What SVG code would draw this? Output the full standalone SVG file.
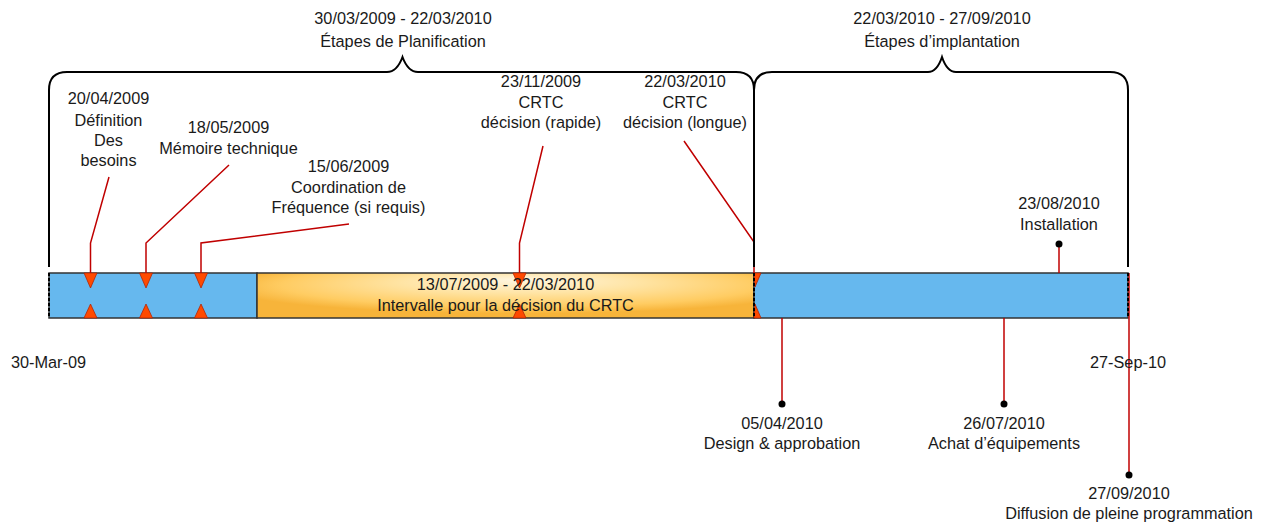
<svg xmlns="http://www.w3.org/2000/svg" width="1265" height="525" viewBox="0 0 1265 525">
<defs>
<radialGradient id="og" cx="0.53" cy="0.3" r="0.6" fx="0.53" fy="0.15">
<stop offset="0" stop-color="#FFF6E0"/>
<stop offset="0.4" stop-color="#FFE4A4"/>
<stop offset="0.8" stop-color="#FFCC62"/>
<stop offset="1" stop-color="#F7B43A"/>
</radialGradient>
</defs>
<style>
text{font-family:"Liberation Sans",Arial,sans-serif;font-size:16.3px;fill:#1a1a1a;text-anchor:middle}
.blue{fill:#66B8EE;stroke:#333;stroke-width:1.5}
.orange{fill:url(#og);stroke:#333;stroke-width:1.5}
.brace{fill:none;stroke:#000;stroke-width:2}
.dash{fill:none;stroke:#000;stroke-width:2;stroke-dasharray:3 2}
.red{fill:none;stroke:#C00000;stroke-width:1.5}
.tri{fill:#FF4A00;stroke:#B22000;stroke-width:0.75}
.dot{fill:#000}
</style>
<rect width="1265" height="525" fill="#fff"/>

<g id="bar">
<rect class="blue" x="49" y="273" width="208" height="45"/>
<rect class="orange" x="257" y="273" width="497" height="45"/>
<rect class="blue" x="754" y="273" width="374" height="45"/>
</g>

<g id="connectors">
<polyline class="red" points="109,177 90.5,243 90.5,273"/>
<polyline class="red" points="229,165 146,243 146,273"/>
<polyline class="red" points="349,224 201,243 201,273"/>
<polyline class="red" points="543,146 519.5,243 519.5,273"/>
<polyline class="red" points="684,141 754,242 754,273"/>
<line class="red" x1="1059" y1="244" x2="1059" y2="273"/>
<line class="red" x1="782" y1="318" x2="782" y2="404"/>
<line class="red" x1="1004" y1="318" x2="1004" y2="404"/>
<line class="red" x1="1129" y1="273" x2="1129" y2="475"/>
<circle class="dot" cx="1059" cy="244" r="3.5"/>
<circle class="dot" cx="782" cy="404" r="3.5"/>
<circle class="dot" cx="1004" cy="404" r="3.5"/>
<circle class="dot" cx="1129" cy="475" r="3.5"/>
</g>

<g id="markers">
<polygon class="tri" points="84,273 97,273 90.5,288"/>
<polygon class="tri" points="84,318 97,318 90.5,304"/>
<polygon class="tri" points="139.5,273 152.5,273 146,288"/>
<polygon class="tri" points="139.5,318 152.5,318 146,304"/>
<polygon class="tri" points="194.5,273 207.5,273 201,288"/>
<polygon class="tri" points="194.5,318 207.5,318 201,304"/>
<polygon class="tri" points="513,273 526,273 519.5,288"/>
<polygon class="tri" points="513,318 526,318 519.5,304"/>
<polygon class="tri" points="754,273 761,273 755,287"/>
<polygon class="tri" points="754,318 761,318 755,304"/>
</g>

<g id="edges">
<line class="dash" x1="49" y1="273" x2="49" y2="318"/>
<line class="dash" x1="754" y1="273" x2="754" y2="318"/>
<line class="dash" x1="1128" y1="273" x2="1128" y2="318"/>
</g>

<g id="brace-planification">
<path class="brace" d="M49,267 V90 Q49,72 67,72 H387 Q397,72 402.5,57 Q408,72 418,72 H736 Q754,72 754,90 V267"/>
<text x="403" y="24">30/03/2009 - 22/03/2010</text>
<text x="403" y="47">Étapes de Planification</text>
</g>

<g id="brace-implantation">
<path class="brace" d="M754,90 Q754,72 772,72 H928 Q937,72 942,57 Q947,72 956,72 H1110 Q1128,72 1128,90 V267"/>
<text x="942" y="24">22/03/2010 - 27/09/2010</text>
<text x="942" y="47">Étapes d’implantation</text>
</g>

<g id="n-definition">
<text x="108.5" y="104">20/04/2009</text>
<text x="108.5" y="125.5">Définition</text>
<text x="108.5" y="146">Des</text>
<text x="108.5" y="166">besoins</text>
</g>

<g id="n-memoire">
<text x="228.5" y="132.5">18/05/2009</text>
<text x="228.5" y="153.5">Mémoire technique</text>
</g>

<g id="n-coordination">
<text x="348.5" y="172">15/06/2009</text>
<text x="348.5" y="192.5">Coordination de</text>
<text x="348.5" y="212.5">Fréquence (si requis)</text>
</g>

<g id="n-crtc-rapide">
<text x="541" y="87">23/11/2009</text>
<text x="541" y="108">CRTC</text>
<text x="541" y="128">décision (rapide)</text>
</g>

<g id="n-crtc-longue">
<text x="685" y="87">22/03/2010</text>
<text x="685" y="108">CRTC</text>
<text x="685" y="128">décision (longue)</text>
</g>

<g id="n-intervalle">
<text x="505.5" y="290">13/07/2009 - 22/03/2010</text>
<text x="505.5" y="311">Intervalle pour la décision du CRTC</text>
</g>

<g id="n-installation">
<text x="1059" y="209">23/08/2010</text>
<text x="1059" y="230">Installation</text>
</g>

<g id="n-start">
<text x="48.5" y="368">30-Mar-09</text>
</g>

<g id="n-end">
<text x="1128" y="368">27-Sep-10</text>
</g>

<g id="n-design">
<text x="782" y="429">05/04/2010</text>
<text x="782" y="449">Design &amp; approbation</text>
</g>

<g id="n-achat">
<text x="1004" y="429">26/07/2010</text>
<text x="1004" y="449">Achat d’équipements</text>
</g>

<g id="n-diffusion">
<text x="1129" y="498.5">27/09/2010</text>
<text x="1129" y="518.5">Diffusion de pleine programmation</text>
</g>
</svg>
